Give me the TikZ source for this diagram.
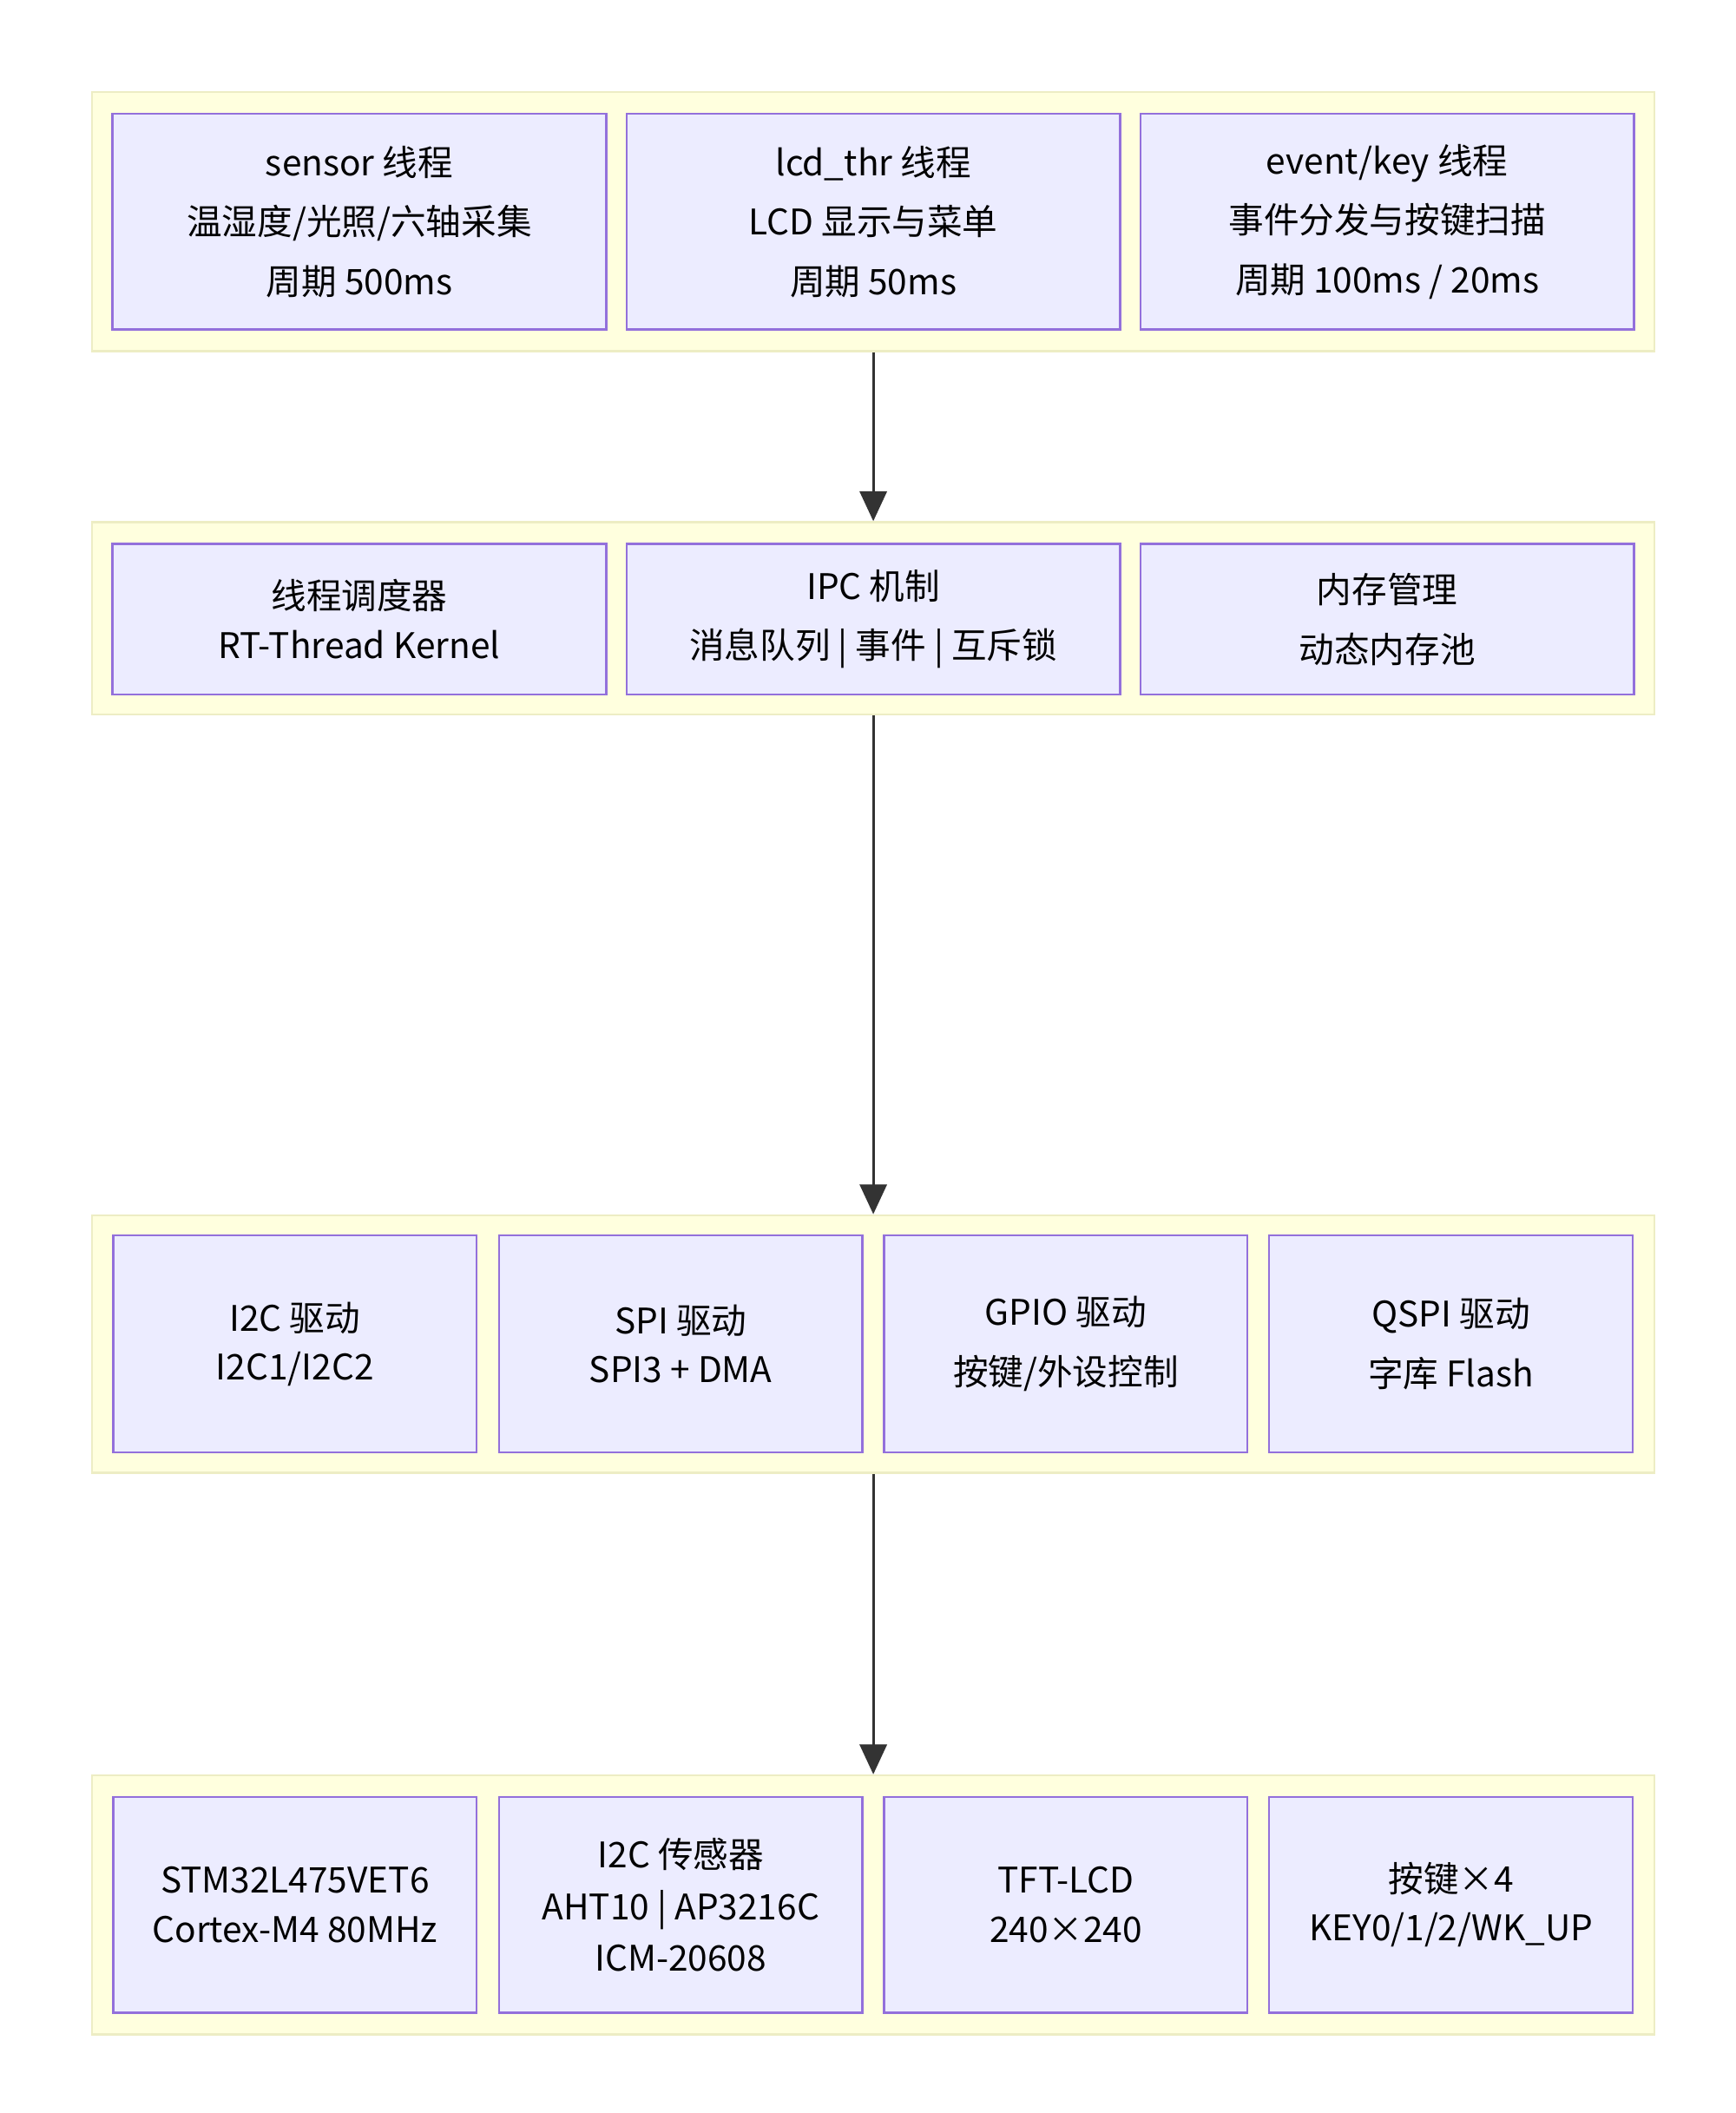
\documentclass[tikz,border=0pt]{standalone}
\usepackage{fontspec}
\setmainfont{Noto Sans CJK SC}
\usetikzlibrary{arrows.meta}
\definecolor{grpfill}{HTML}{FFFFDE}
\definecolor{grpline}{HTML}{EDEDC4}
\definecolor{boxfill}{HTML}{ECECFF}
\definecolor{boxline}{HTML}{9370DB}
\definecolor{arr}{HTML}{333333}
\begin{document}
\begin{tikzpicture}[x=1pt,y=-1pt,
 grp/.style={draw=grpline,fill=grpfill,line width=1.5pt,minimum width=1152pt,inner sep=0pt},
 box/.style={draw=boxline,fill=boxfill,line width=1.5pt,inner sep=0pt,align=center,
   font=\fontsize{26}{44}\selectfont},
 b3/.style={box,minimum width=364pt},
 b4/.style={box,minimum width=268pt},
 link/.style={draw=arr,line width=1.8pt,-{Triangle[length=22pt,width=20pt]}}]
\useasboundingbox[fill=white] (0,0) rectangle (1280,1558);
% groups
\node[grp,minimum height=191pt] (g1) at (644,163.5) {};
\node[grp,minimum height=142pt] (g2) at (644,456) {};
\node[grp,minimum height=190pt] (g3) at (644,991) {};
\node[grp,minimum height=191pt] (g4) at (644,1404.5) {};
% layer 1
\node[b3,minimum height=159pt] (s1) at (265,163.5) {sensor 线程\\温湿度/光照/六轴采集\\周期 500ms};
\node[b3,minimum height=159pt] (s2) at (644,163.5) {lcd\_thr 线程\\LCD 显示与菜单\\周期 50ms};
\node[b3,minimum height=159pt] (s3) at (1023,163.5) {event/key 线程\\事件分发与按键扫描\\周期 100ms / 20ms};
% layer 2
\node[b3,minimum height=111pt] (k1) at (265,456.5) {线程调度器\\[-8pt]RT-Thread Kernel};
\node[b3,minimum height=111pt] (k2) at (644,456.5) {IPC 机制\\消息队列 | 事件 | 互斥锁};
\node[b3,minimum height=111pt] (k3) at (1023,456.5) {内存管理\\动态内存池};
% layer 3
\node[b4,minimum height=160pt] (d1) at (217.5,991) {I2C 驱动\\[-8pt]I2C1/I2C2};
\node[b4,minimum height=160pt] (d2) at (502,991) {SPI 驱动\\[-8pt]SPI3 + DMA};
\node[b4,minimum height=160pt] (d3) at (786,991) {GPIO 驱动\\按键/外设控制};
\node[b4,minimum height=160pt] (d4) at (1070,991) {QSPI 驱动\\字库 Flash};
% layer 4
\node[b4,minimum height=159pt] (h1) at (217.5,1404.5) {STM32L475VET6\\[-8pt]Cortex-M4 80MHz};
\node[b4,minimum height=159pt,font=\fontsize{26}{38}\selectfont] (h2) at (502,1404.5) {I2C 传感器\\AHT10 | AP3216C\\ICM-20608};
\node[b4,minimum height=159pt] (h3) at (786,1404.5) {TFT-LCD\\[-8pt]240×240};
\node[b4,minimum height=159pt] (h4) at (1070,1404.5) {按键×4\\[-8pt]KEY0/1/2/WK\_UP};
% arrows
\draw[link] (g1.south) -- (g2.north);
\draw[link] (g2.south) -- (g3.north);
\draw[link] (g3.south) -- (g4.north);
\end{tikzpicture}
\end{document}
